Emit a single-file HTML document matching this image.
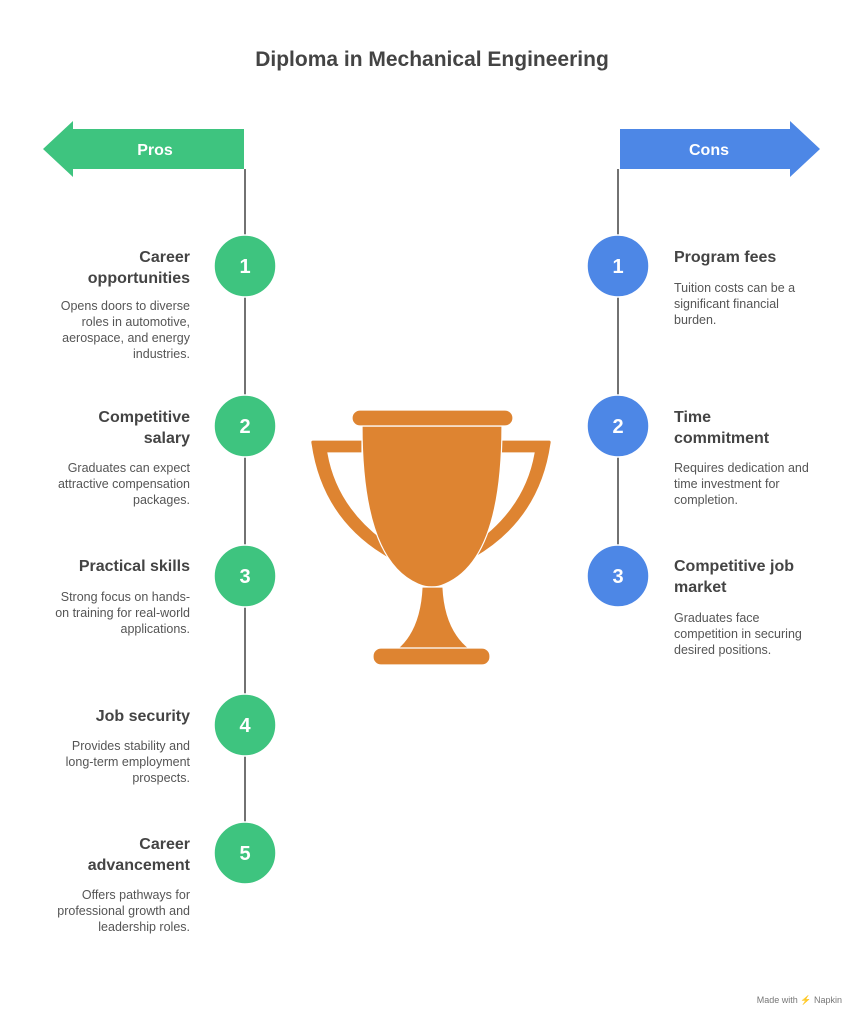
<!DOCTYPE html>
<html><head><meta charset="utf-8"><style>
body{margin:0;background:#fff;}
svg text{font-family:"Liberation Sans",sans-serif;}
.t{font-size:16px;font-weight:bold;fill:#444;}
.d{font-size:12.5px;fill:#555;}
.n{font-size:20px;font-weight:bold;fill:#fff;}
</style></head><body>
<svg width="864" height="1024" viewBox="0 0 864 1024" xmlns="http://www.w3.org/2000/svg">
<text x="432" y="66" text-anchor="middle" style="font-size:21px;font-weight:bold;fill:#444">Diploma in Mechanical Engineering</text>
<polygon points="43,149 73,121 73,129 244,129 244,169 73,169 73,177" fill="#3ec47f"/>
<text x="155" y="155" text-anchor="middle" style="font-size:16px;font-weight:bold;fill:#fff">Pros</text>
<polygon points="820,149 790,121 790,129 620,129 620,169 790,169 790,177" fill="#4d87e6"/>
<text x="709" y="155" text-anchor="middle" style="font-size:16px;font-weight:bold;fill:#fff">Cons</text>
<line x1="245" y1="169" x2="245" y2="853" stroke="#444" stroke-width="1.5"/>
<line x1="618" y1="169" x2="618" y2="576" stroke="#444" stroke-width="1.5"/>
<g fill="#3ec47f" stroke="#fff" stroke-width="1.5">
<circle cx="245" cy="266" r="31"/><circle cx="245" cy="426" r="31"/><circle cx="245" cy="576" r="31"/><circle cx="245" cy="725" r="31"/><circle cx="245" cy="853" r="31"/>
</g>
<g fill="#4d87e6" stroke="#fff" stroke-width="1.5">
<circle cx="618" cy="266" r="31"/><circle cx="618" cy="426" r="31"/><circle cx="618" cy="576" r="31"/>
</g>
<g class="n" text-anchor="middle">
<text x="245" y="273" class="n">1</text><text x="245" y="433" class="n">2</text><text x="245" y="583" class="n">3</text><text x="245" y="732" class="n">4</text><text x="245" y="860" class="n">5</text>
<text x="618" y="273" class="n">1</text><text x="618" y="433" class="n">2</text><text x="618" y="583" class="n">3</text>
</g>
<g text-anchor="end">
<text x="190" y="262" class="t">Career</text><text x="190" y="283" class="t">opportunities</text>
<text x="190" y="310" class="d">Opens doors to diverse</text><text x="190" y="326" class="d">roles in automotive,</text><text x="190" y="342" class="d">aerospace, and energy</text><text x="190" y="358" class="d">industries.</text>
<text x="190" y="422" class="t">Competitive</text><text x="190" y="443" class="t">salary</text>
<text x="190" y="472" class="d">Graduates can expect</text><text x="190" y="488" class="d">attractive compensation</text><text x="190" y="504" class="d">packages.</text>
<text x="190" y="571" class="t">Practical skills</text>
<text x="190" y="601" class="d">Strong focus on hands-</text><text x="190" y="617" class="d">on training for real-world</text><text x="190" y="633" class="d">applications.</text>
<text x="190" y="721" class="t">Job security</text>
<text x="190" y="750" class="d">Provides stability and</text><text x="190" y="766" class="d">long-term employment</text><text x="190" y="782" class="d">prospects.</text>
<text x="190" y="849" class="t">Career</text><text x="190" y="870" class="t">advancement</text>
<text x="190" y="899" class="d">Offers pathways for</text><text x="190" y="915" class="d">professional growth and</text><text x="190" y="931" class="d">leadership roles.</text>
</g>
<g>
<text x="674" y="262" class="t">Program fees</text>
<text x="674" y="292" class="d">Tuition costs can be a</text><text x="674" y="308" class="d">significant financial</text><text x="674" y="324" class="d">burden.</text>
<text x="674" y="422" class="t">Time</text><text x="674" y="443" class="t">commitment</text>
<text x="674" y="472" class="d">Requires dedication and</text><text x="674" y="488" class="d">time investment for</text><text x="674" y="504" class="d">completion.</text>
<text x="674" y="571" class="t">Competitive job</text><text x="674" y="592" class="t">market</text>
<text x="674" y="622" class="d">Graduates face</text><text x="674" y="638" class="d">competition in securing</text><text x="674" y="654" class="d">desired positions.</text>
</g>
<g fill="#de8431" stroke="#fff" stroke-width="1.2">
<path d="M362,440 L313,440 Q310,440 311,444 Q322,520 388,558 L392,546 Q338,510 328,453 L362,453 Z"/>
<path d="M500,440 L549,440 Q552,440 551,444 Q540,520 474,558 L470,546 Q524,510 534,453 L500,453 Z"/>
<path d="M362,426 L502,426 Q502,560 445,584 Q432,590 418,584 Q362,560 362,426 Z"/>
<path d="M422,587 L443,587 Q445,630 470,649 L397,649 Q420,630 422,587 Z"/>
<rect x="352" y="410" width="161" height="16" rx="8"/>
<rect x="373" y="648" width="117" height="17" rx="8"/>
</g>
<text x="842" y="1003" text-anchor="end" style="font-size:9px;fill:#777">Made with ⚡ Napkin</text>
</svg>
</body></html>
